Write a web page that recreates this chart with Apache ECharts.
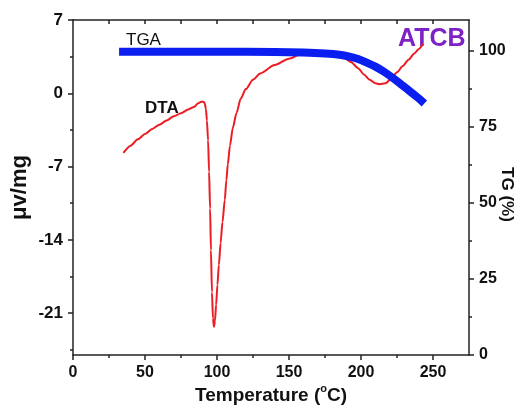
<!DOCTYPE html>
<html><head><meta charset="utf-8">
<script src="https://cdn.jsdelivr.net/npm/echarts@6/dist/echarts.min.js"></script>
<style>html,body{margin:0;padding:0;background:#fff}#c{width:516px;height:408px}</style>
</head><body><div id="c"></div>
<script>
// DTA curve (µV/mg vs temperature)
var dtaTemp = [35,40,45,50,55,60,65,70,75,80,84,87,89,90.5,91.5,92.3,93,93.8,94.5,95.2,95.8,96.5,97.2,97.9,98.6,99.4,100.3,101.3,102.5,103.8,105.4,106.5,107.5,109,111,113.5,116.5,120,125,130,140,150,158,165,172,180,186,193,198,202,206,210,213,217,221,225,229,233,237,240,243];
var dtaVal  = [-5.7,-5.0,-4.4,-3.9,-3.4,-3.0,-2.6,-2.2,-1.9,-1.55,-1.3,-0.95,-0.8,-0.8,-0.95,-1.5,-2.6,-4.5,-7.5,-11,-15,-19,-21.5,-22.3,-21.7,-20.2,-18.3,-16.4,-14.3,-12.3,-10.2,-8.3,-6.8,-5.0,-3.3,-1.9,-0.5,0.4,1.3,1.9,2.7,3.3,3.7,3.9,4.0,3.9,3.6,3.0,2.4,1.8,1.3,0.95,0.86,0.95,1.4,2.0,2.6,3.2,3.8,4.2,4.7];
// TGA curve (% vs temperature)
var tgaTemp = [32,60,100,140,160,175,185,192,198,204,210,216,222,228,234,240,244];
var tgaVal  = [99.6,99.6,99.6,99.5,99.3,99.0,98.6,98.0,97.2,96.0,94.7,93.0,91.0,88.8,86.6,84.3,82.6];
// axis ticks
var xTicks = [0,50,100,150,200,250];
var xMinor = [25,75,125,175,225];
var xTop = [25,50,75,100,125,150,175,200,225,250];
var yLeftTicks = [-21,-14,-7,0,7];
var yLeftMinor = [-24.5,-17.5,-10.5,-3.5,3.5];
var yRightTicks = [0,25,50,75,100];
var yRightMinor = [12.5,37.5,62.5,87.5];

var FONT = 'Liberation Sans, Arial, sans-serif';
var lbl = {fontFamily: FONT, fontWeight: 'bold', fontSize: 16, color: '#111'};
var lineS = {color: '#222', width: 1.5};

function zip(a, b){ return a.map(function(v,i){ return [v, b[i]]; }); }

var chart = echarts.init(document.getElementById('c'));
chart.setOption({
  animation: false,
  backgroundColor: '#fff',
  grid: {left: 73, right: 47, top: 20, bottom: 53, containLabel: false, outerBoundsMode: 'none'},
  xAxis: [
    {type: 'value', position: 'bottom', min: 0, max: 275,
     axisLine: {onZero: false, lineStyle: lineS}, splitLine: {show: false},
     axisTick: {customValues: xTicks, length: 5, lineStyle: lineS},
     axisLabel: Object.assign({customValues: xTicks, margin: 10}, lbl),
     name: 'Temperature ({s|o}C)', nameLocation: 'middle', nameGap: 28, nameMoveOverlap: false,
     nameTextStyle: {fontFamily: FONT, fontWeight: 'bold', fontSize: 19, color: '#111',
       rich: {s: {fontFamily: FONT, fontWeight: 'bold', fontSize: 11, color: '#111', verticalAlign: 'top', padding: [0,0,14,0]}}}},
    {type: 'value', position: 'bottom', min: 0, max: 275,
     axisLine: {show: false, onZero: false}, splitLine: {show: false}, axisLabel: {show: false},
     axisTick: {customValues: xMinor, length: 3, lineStyle: lineS}},
    {type: 'value', position: 'top', min: 0, max: 275,
     axisLine: {onZero: false, lineStyle: lineS}, splitLine: {show: false}, axisLabel: {show: false},
     axisTick: {customValues: xTop, length: 4, inside: true, lineStyle: lineS}}
  ],
  yAxis: [
    {type: 'value', position: 'left', min: -25, max: 7,
     axisLine: {show: true, onZero: false, lineStyle: lineS}, splitLine: {show: false},
     axisTick: {show: true, customValues: yLeftTicks, length: 5, lineStyle: lineS},
     axisLabel: Object.assign({customValues: yLeftTicks, margin: 10}, lbl, {fontSize: 17}),
     name: 'μv/mg', nameLocation: 'middle', nameGap: 42, nameRotate: 90, nameMoveOverlap: false,
     nameTextStyle: {fontFamily: FONT, fontWeight: 'bold', fontSize: 22, color: '#111'}},
    {type: 'value', position: 'left', min: -25, max: 7,
     axisLine: {show: false, onZero: false}, splitLine: {show: false}, axisLabel: {show: false},
     axisTick: {show: true, customValues: yLeftMinor, length: 3, lineStyle: lineS}},
    {type: 'value', position: 'right', min: 0, max: 110,
     axisLine: {show: true, onZero: false, lineStyle: lineS}, splitLine: {show: false},
     axisTick: {show: true, customValues: yRightTicks, length: 5, lineStyle: lineS},
     axisLabel: Object.assign({customValues: yRightTicks, margin: 10}, lbl),
     name: 'TG (%)', nameLocation: 'middle', nameGap: 29, nameRotate: -90, nameMoveOverlap: false,
     nameTextStyle: {fontFamily: FONT, fontWeight: 'bold', fontSize: 17, color: '#111', padding: [0,0,0,14]}},
    {type: 'value', position: 'right', min: 0, max: 110,
     axisLine: {show: false, onZero: false}, splitLine: {show: false}, axisLabel: {show: false},
     axisTick: {show: true, customValues: yRightMinor, length: 3, lineStyle: lineS}}
  ],
  series: [
    {type: 'line', name: 'DTA', xAxisIndex: 0, yAxisIndex: 0, data: zip(dtaTemp, dtaVal),
     showSymbol: false, smooth: 0.25, smoothMonotone: 'x',
     lineStyle: {color: '#ec1c24', width: 2}},
    {type: 'line', name: 'TGA', xAxisIndex: 0, yAxisIndex: 2, data: zip(tgaTemp, tgaVal),
     showSymbol: false, smooth: 0.3,
     lineStyle: {color: '#0a1ef0', width: 8}}
  ],
  graphic: [
    {type: 'text', left: 126, top: 32, style: {text: 'TGA', font: 'normal 17px ' + FONT, fill: '#111'}},
    {type: 'text', left: 145, top: 100, style: {text: 'DTA', font: 'bold 17px ' + FONT, fill: '#111'}},
    {type: 'text', left: 398, top: 27, style: {text: 'ATCB', font: 'bold 25px ' + FONT, fill: '#7d22c4'}}
  ]
});
</script></body></html>
